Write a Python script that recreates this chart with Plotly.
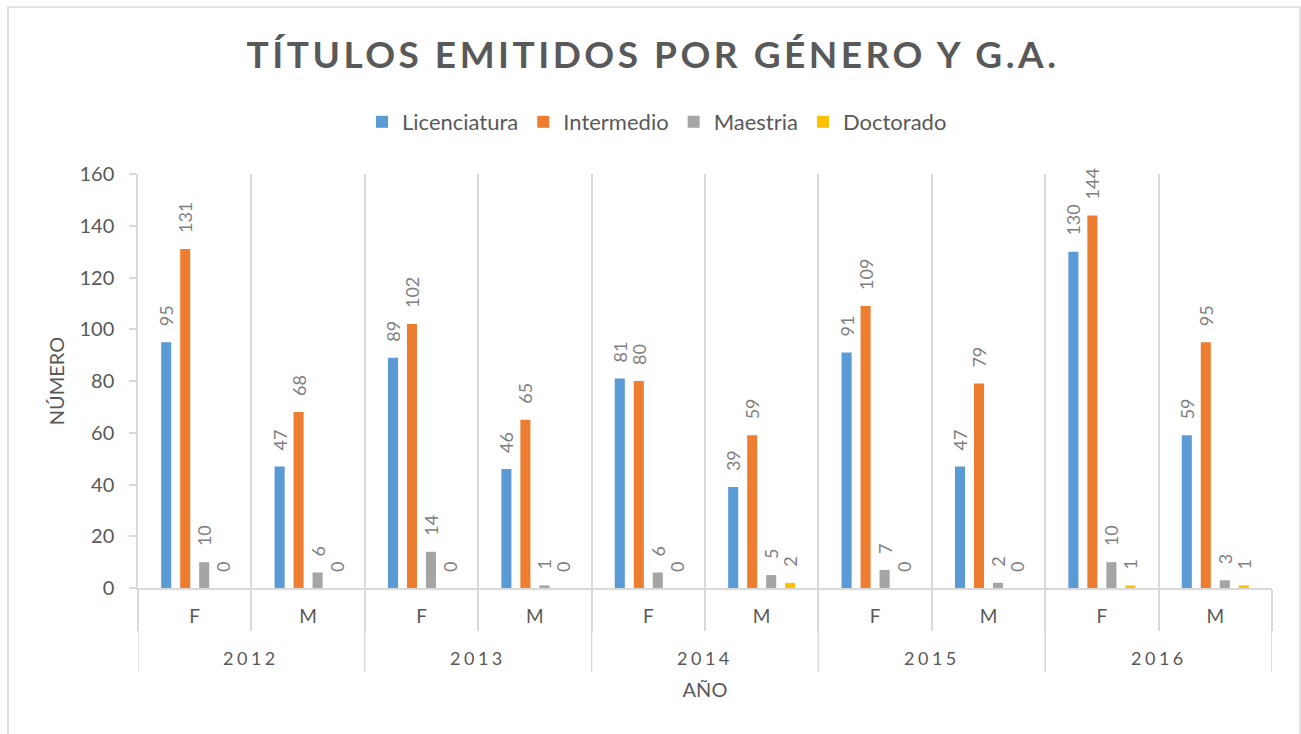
import plotly.graph_objects as go

years = ["2012", "2012", "2013", "2013", "2014", "2014", "2015", "2015", "2016", "2016"]
genders = ["F", "M", "F", "M", "F", "M", "F", "M", "F", "M"]

licenciatura = [95, 47, 89, 46, 81, 39, 91, 47, 130, 59]
intermedio = [131, 68, 102, 65, 80, 59, 109, 79, 144, 95]
maestria = [10, 6, 14, 1, 6, 5, 7, 2, 10, 3]
doctorado = [0, 0, 0, 0, 0, 2, 0, 0, 1, 1]

series_names = ["Licenciatura", "Intermedio", "Maestria", "Doctorado"]
series_values = [licenciatura, intermedio, maestria, doctorado]
series_colors = ["#5B9BD5", "#ED7D31", "#A5A5A5", "#FFC000"]

y_ticks = [0, 20, 40, 60, 80, 100, 120, 140, 160]

FONT = "Lato"
GRID = "#D9D9D9"
TXT = "#595959"

# layout geometry (pixels)
W, H = 1301, 734
ML, MR, MT, MB = 138, 29, 174, 146
PW, PH = W - ML - MR, H - MT - MB


def py(pix):
    """pixel row -> paper y"""
    return (H - MB - pix) / PH


def pxp(pix):
    return (pix - ML) / PW


x_idx = list(range(len(genders)))

fig = go.Figure()
for name, vals, col in zip(series_names, series_values, series_colors):
    fig.add_trace(go.Bar(
        name=name,
        x=x_idx,
        y=vals,
        marker=dict(color=col, line=dict(width=0)),
        text=[str(v) for v in vals],
        textposition="outside",
        textangle=-90,
        constraintext="none",
        cliponaxis=False,
        textfont=dict(family=FONT, size=18, color="#7F7F7F"),
    ))

# year group labels & dividers from the category data
unique_years = []
for y in years:
    if y not in unique_years:
        unique_years.append(y)
annotations = []
boundaries = [-0.5]
for yr in unique_years:
    idx = [i for i, v in enumerate(years) if v == yr]
    annotations.append(dict(
        x=sum(idx) / len(idx), xref="x",
        y=py(658), yref="paper",
        text=yr, showarrow=False,
        xanchor="center", yanchor="middle",
        font=dict(family=FONT, size=18, color=TXT),
    ))
    boundaries.append(max(idx) + 0.5)

shapes = [dict(
    type="rect", xref="paper", yref="paper",
    x0=pxp(8), x1=pxp(1300), y0=py(745), y1=py(7),
    line=dict(color=GRID, width=1.5), fillcolor="rgba(0,0,0,0)", layer="below",
)]
for b in boundaries:
    shapes.append(dict(
        type="line", xref="x", yref="paper",
        x0=b, x1=b, y0=0, y1=py(672),
        line=dict(color=GRID, width=1.5),
    ))

fig.update_layout(
    width=W,
    height=H,
    paper_bgcolor="white",
    plot_bgcolor="white",
    barmode="group",
    bargap=0.33,
    bargroupgap=0.47,
    margin=dict(l=ML, r=MR, t=MT, b=MB, autoexpand=False),
    font=dict(family=FONT, color=TXT),
    title=dict(
        text="<b>TÍTULOS EMITIDOS POR GÉNERO Y G.A.</b>",
        xref="container", x=653 / W, xanchor="center",
        yref="container", y=1 - 55 / H, yanchor="middle",
        font=dict(family=FONT, size=37, color=TXT),
    ),
    legend=dict(
        orientation="h",
        xref="container", x=657 / W, xanchor="center",
        yref="container", y=1 - 122 / H, yanchor="middle",
        font=dict(family=FONT, size=22, color=TXT),
        itemwidth=30,
        traceorder="normal",
    ),
    xaxis=dict(
        range=[-0.5, len(genders) - 0.5],
        tickmode="array",
        tickvals=x_idx,
        ticktext=genders,
        ticks="",
        showgrid=False,
        zeroline=False,
        showline=True,
        linecolor=GRID,
        linewidth=1.5,
        ticklabelstandoff=10,
        automargin=False,
        minor=dict(
            tickmode="array",
            tickvals=[i - 0.5 for i in range(len(genders) + 1)],
            showgrid=True,
            gridcolor=GRID,
            gridwidth=1.5,
            ticks="outside",
            ticklen=41,
            tickcolor=GRID,
            tickwidth=1.5,
        ),
        tickfont=dict(family=FONT, size=19, color=TXT),
        title=dict(text="AÑO", font=dict(family=FONT, size=20, color=TXT), standoff=57),
    ),
    yaxis=dict(
        range=[0, 160],
        tickmode="array",
        tickvals=y_ticks,
        showgrid=False,
        zeroline=False,
        showline=True,
        linecolor=GRID,
        linewidth=1.5,
        ticks="outside",
        ticklen=7,
        tickcolor=GRID,
        tickwidth=1.5,
        ticklabelstandoff=11,
        automargin=False,
        tickfont=dict(family=FONT, size=20, color=TXT),
        title=dict(text="NÚMERO", font=dict(family=FONT, size=20, color=TXT), standoff=9),
    ),
    shapes=shapes,
    annotations=annotations,
)

post_js = r"""
(function(){
  document.body.style.margin = '0';
  var gd = document.querySelector('.js-plotly-plot');
  function tweak(){
    gd.querySelectorAll('.gtitle').forEach(function(t){ t.style.letterSpacing = '3.5px'; });
    gd.querySelectorAll('.annotation-text').forEach(function(t){
      if (/^\d{4}$/.test(t.textContent)) { t.style.letterSpacing = '3.5px'; }
    });
    gd.querySelectorAll('text.bartext').forEach(function(t){
      if (!t.getAttribute('data-shifted')) {
        t.setAttribute('transform', 'translate(0,-13) ' + (t.getAttribute('transform') || ''));
        t.setAttribute('data-shifted', '1');
      }
    });
  }
  tweak();
})();
"""

fig.write_html("out.html", post_script=post_js, config={"displayModeBar": False})
